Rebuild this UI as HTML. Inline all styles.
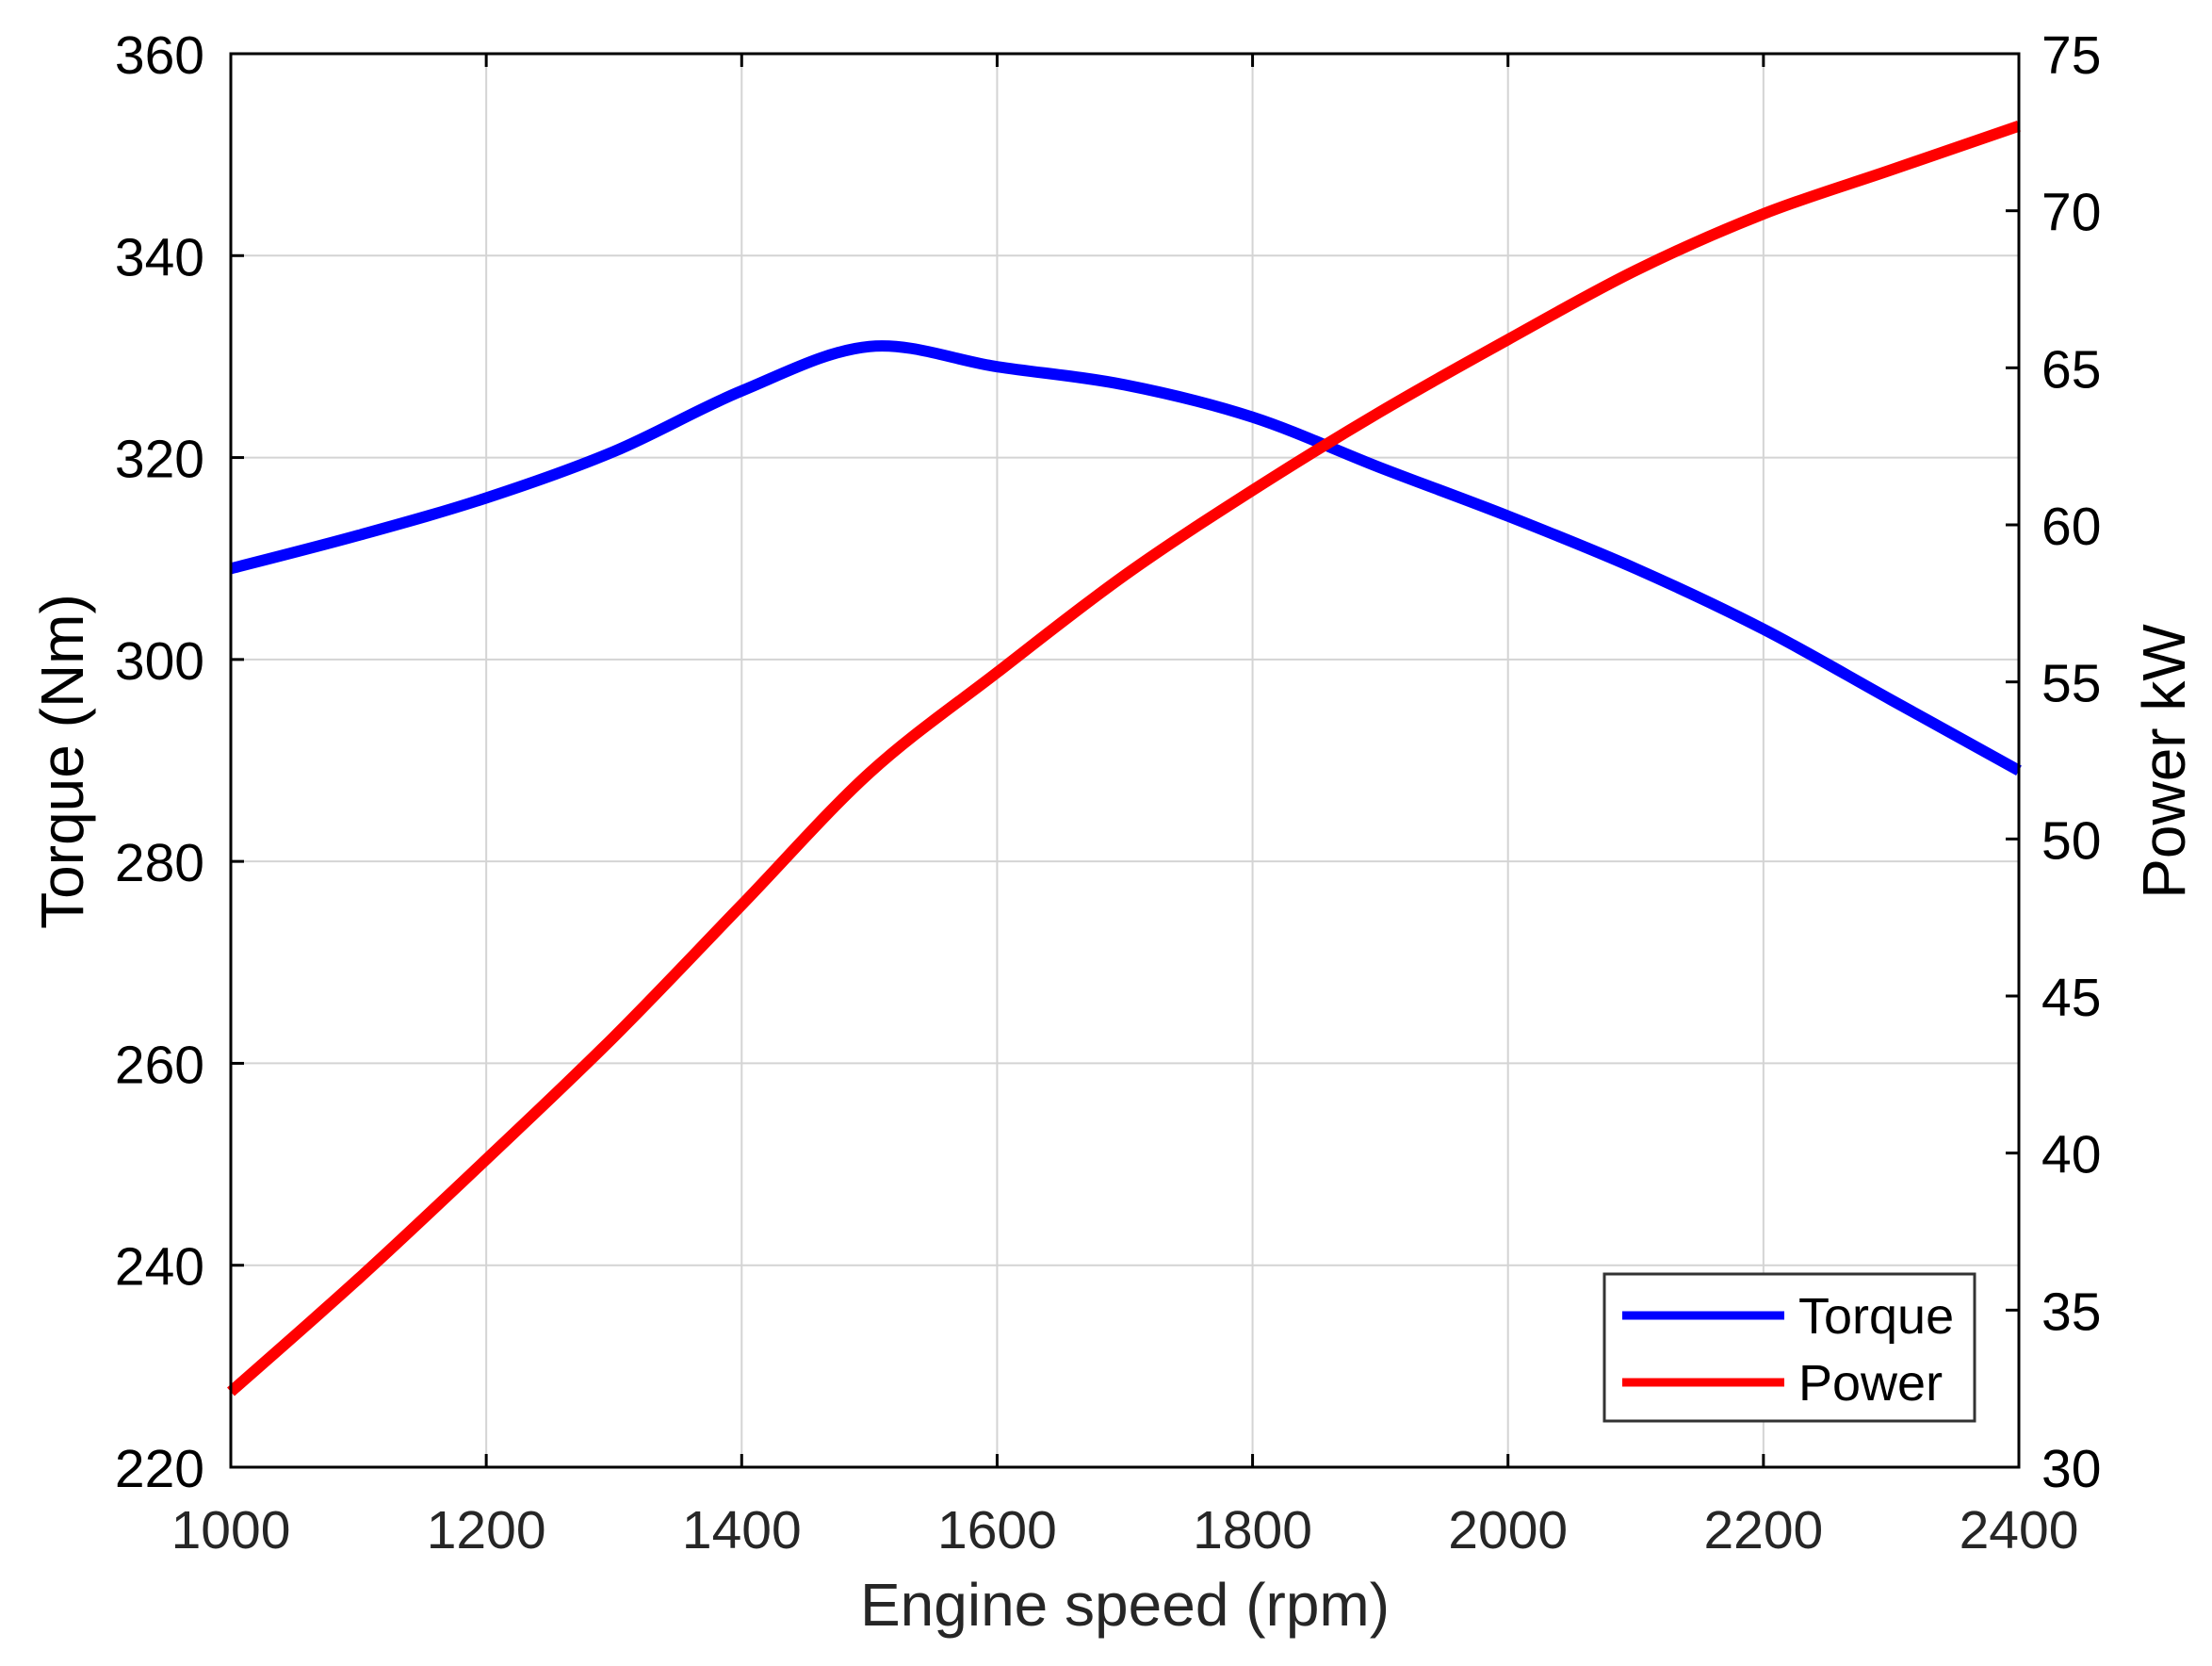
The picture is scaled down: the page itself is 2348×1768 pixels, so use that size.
<!DOCTYPE html>
<html><head><meta charset="utf-8"><style>html,body{margin:0;padding:0;background:#fff}svg{display:block}</style></head>
<body>
<svg id="s" width="2348" height="1768" xmlns="http://www.w3.org/2000/svg" font-family="Liberation Sans, Arial, sans-serif">
<rect width="2348" height="1768" fill="#fff"/>
<g id="grid" stroke="#d4d4d4" stroke-width="2"></g>
<g id="curves" fill="none" stroke-width="12" stroke-linejoin="round" stroke-linecap="butt"></g>
<g id="axes" stroke="#000" stroke-width="3" fill="none"></g>
<g id="labels" font-size="57" fill="#262626"></g>
<rect x="1703" y="1352" width="393" height="156" fill="#fff" stroke="#333" stroke-width="3"/>
<line x1="1722" y1="1396" x2="1894" y2="1396" stroke="#0000ff" stroke-width="9"/>
<line x1="1722" y1="1467" x2="1894" y2="1467" stroke="#ff0000" stroke-width="9"/>
<text x="1909" y="1415" font-size="54" fill="#000">Torque</text>
<text x="1909" y="1486" font-size="54" fill="#000">Power</text>
<text x="1194" y="1725" font-size="64" fill="#262626" text-anchor="middle">Engine speed (rpm)</text>
<text transform="translate(88,808) rotate(-90)" font-size="64" fill="#000" text-anchor="middle">Torque (Nm)</text>
<text transform="translate(2319,808) rotate(-90)" font-size="64" fill="#000" text-anchor="middle">Power kW</text>
</svg>
<script>
const L=245,R=2143,T=57,B=1557;
const X=v=>L+(v-1000)/1400*(R-L);
const YL=v=>B-(v-220)/140*(B-T);
const YR=v=>B-(v-30)/45*(B-T);
const ns="http://www.w3.org/2000/svg";
function el(p,n,a,t){const e=document.createElementNS(ns,n);for(const k in a)e.setAttribute(k,a[k]);if(t!==undefined)e.textContent=t;document.getElementById(p).appendChild(e);}
for(let v=1200;v<2400;v+=200)el('grid','line',{x1:X(v),y1:T,x2:X(v),y2:B});
for(let v=240;v<360;v+=20)el('grid','line',{x1:L,y1:YL(v),x2:R,y2:YL(v)});
function spline(pts){let d='M'+pts[0][0]+','+pts[0][1];
for(let i=0;i<pts.length-1;i++){const p0=pts[Math.max(i-1,0)],p1=pts[i],p2=pts[i+1],p3=pts[Math.min(i+2,pts.length-1)];
d+=' C'+(p1[0]+(p2[0]-p0[0])/6)+','+(p1[1]+(p2[1]-p0[1])/6)+' '+(p2[0]-(p3[0]-p1[0])/6)+','+(p2[1]-(p3[1]-p1[1])/6)+' '+p2[0]+','+p2[1];}
return d;}
const tq=[[1000,309],[1100,312.3],[1200,316],[1300,320.6],[1400,326.6],[1500,331],[1600,329],[1700,327.2],[1800,324],[1900,319],[2000,314.2],[2100,309],[2200,303],[2300,296],[2400,289]];
const pw=[[1000,32.4],[1100,36],[1200,39.8],[1300,43.7],[1400,47.9],[1500,52.1],[1600,55.3],[1700,58.4],[1800,61.1],[1900,63.6],[2000,65.9],[2100,68.1],[2200,69.9],[2300,71.3],[2400,72.7]];
el('curves','path',{d:spline(tq.map(p=>[X(p[0]),YL(p[1])])),stroke:'#0000ff'});
el('curves','path',{d:spline(pw.map(p=>[X(p[0]),YR(p[1])])),stroke:'#ff0000'});
el('axes','rect',{x:L,y:T,width:R-L,height:B-T});
for(let v=1000;v<=2400;v+=200){el('axes','line',{x1:X(v),y1:B,x2:X(v),y2:B-14});el('axes','line',{x1:X(v),y1:T,x2:X(v),y2:T+14});
el('labels','text',{x:X(v),y:1643,'text-anchor':'middle'},v);}
for(let v=220;v<=360;v+=20){el('axes','line',{x1:L,y1:YL(v),x2:L+14,y2:YL(v)});el('labels','text',{x:217,y:YL(v)+21,'text-anchor':'end',fill:'#000'},v);}
for(let v=30;v<=75;v+=5){el('axes','line',{x1:R,y1:YR(v),x2:R-14,y2:YR(v)});el('labels','text',{x:2167,y:YR(v)+21,fill:'#000'},v);}
</script>
</body></html>
